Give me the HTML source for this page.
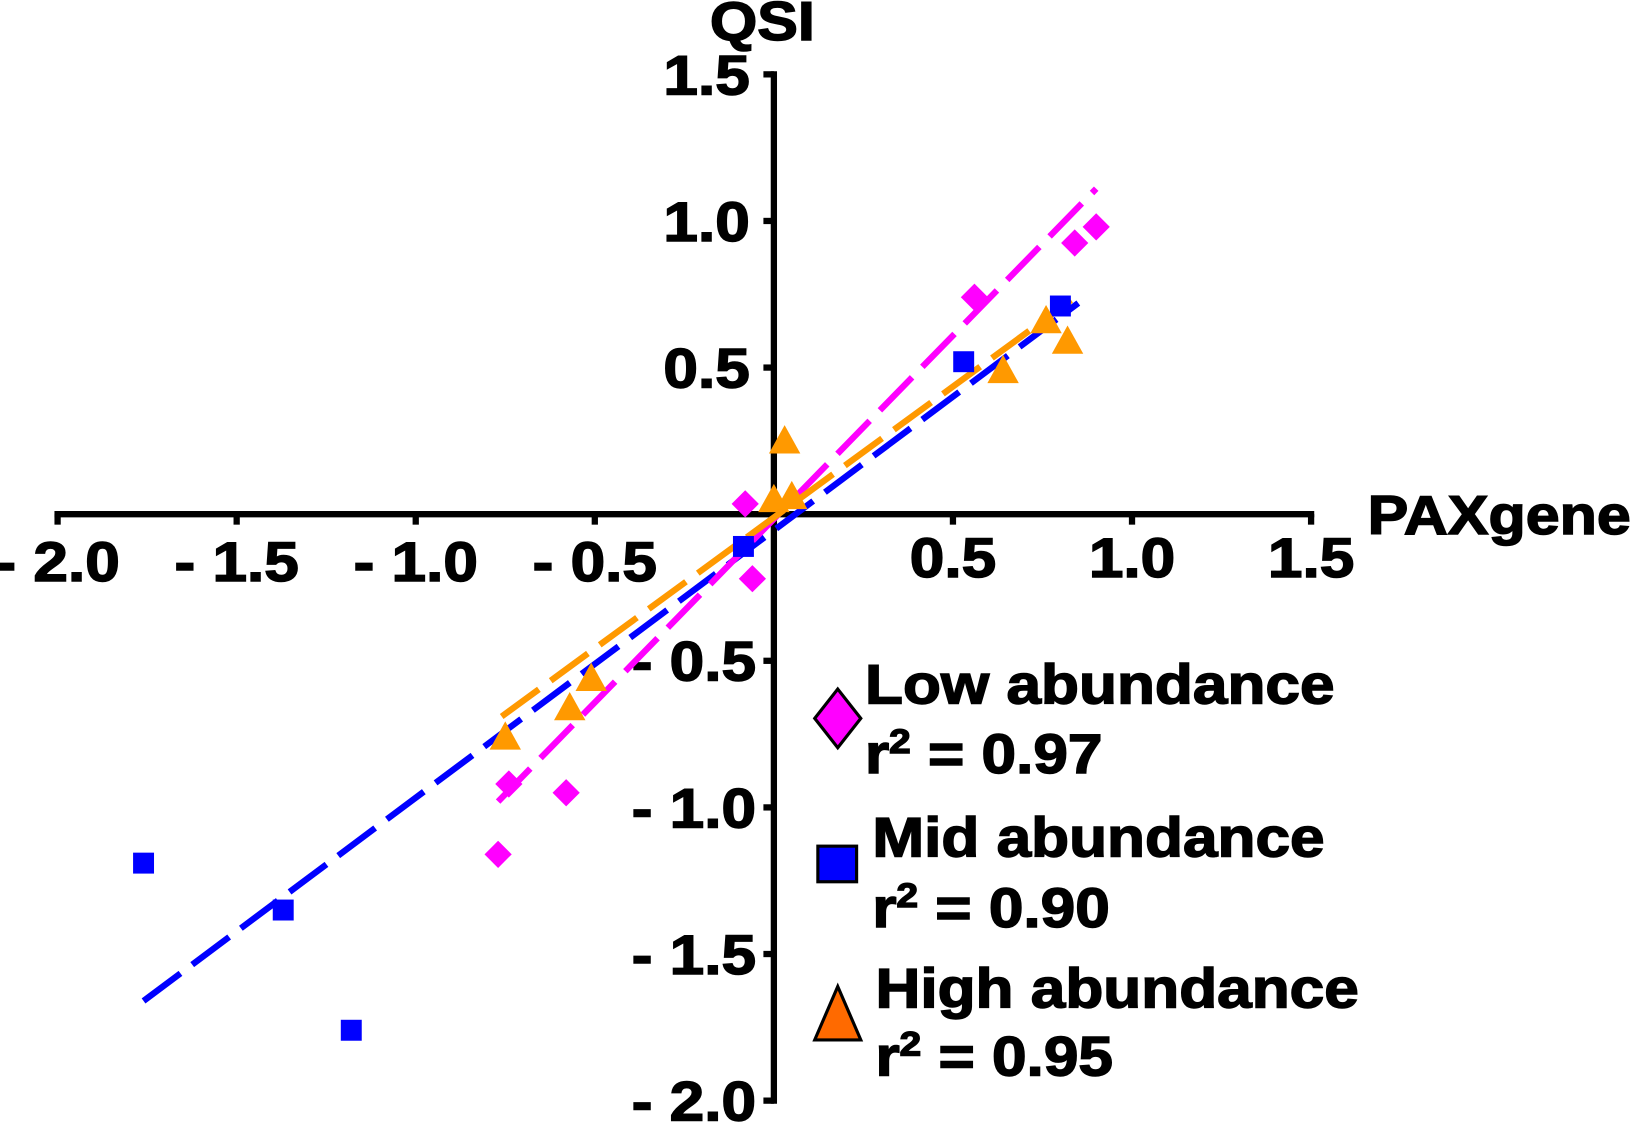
<!DOCTYPE html>
<html><head><meta charset="utf-8"><style>
html,body{margin:0;padding:0;background:#fff;}
svg{display:block;font-family:"Liberation Sans",Arial,sans-serif;font-weight:bold;}
svg text{stroke:#000;stroke-width:1.4;}
</style></head><body>
<svg id="chart" width="1642" height="1131" viewBox="0 0 1568 1080" preserveAspectRatio="none" xmlns="http://www.w3.org/2000/svg">
<g id="axes"></g>
<g id="fits"></g>
<g id="marks"></g>
<g id="legend">
  <polygon points="800,658 822,686 800,714 778,686" fill="#ff00ff" stroke="#000" stroke-width="3"/>
  <text transform="translate(826,672) scale(1.12,1)" font-size="53">Low abundance</text>
  <text transform="translate(826,738) scale(1.12,1)" font-size="53">r<tspan font-size="33" dy="-19">2</tspan><tspan dy="19"> = 0.97</tspan></text>
  <rect x="781" y="808" width="37" height="34" fill="#0000ff" stroke="#000" stroke-width="3"/>
  <text transform="translate(833,818) scale(1.12,1)" font-size="53">Mid abundance</text>
  <text transform="translate(833,885) scale(1.12,1)" font-size="53">r<tspan font-size="33" dy="-19">2</tspan><tspan dy="19"> = 0.90</tspan></text>
  <polygon points="800,942 822,993 778,993" fill="#ff6a00" stroke="#000" stroke-width="3"/>
  <text transform="translate(836,962) scale(1.12,1)" font-size="53">High abundance</text>
  <text transform="translate(836,1027) scale(1.12,1)" font-size="53">r<tspan font-size="33" dy="-19">2</tspan><tspan dy="19"> = 0.95</tspan></text>
</g>
</svg>
<script>
const xTicks = [-2.0, -1.5, -1.0, -0.5, 0.5, 1.0, 1.5];
const xTickLabels = ["- 2.0", "- 1.5", "- 1.0", "- 0.5", "0.5", "1.0", "1.5"];
const yTicks = [1.5, 1.0, 0.5, -0.5, -1.0, -1.5, -2.0];
const yTickLabels = ["1.5", "1.0", "0.5", "- 0.5", "- 1.0", "- 1.5", "- 2.0"];
const lowX = [0.90, 0.84, 0.56, -0.08, -0.06, -0.74, -0.58, -0.77];
const lowY = [0.98, 0.925, 0.74, 0.035, -0.22, -0.92, -0.95, -1.16];
const midX = [0.80, 0.53, -0.085, -1.76, -1.37, -1.18];
const midY = [0.71, 0.52, -0.11, -1.19, -1.35, -1.76];
const highX = [0.03, 0.0, 0.05, 0.76, 0.82, 0.64, -0.51, -0.57, -0.75];
const highY = [0.25, 0.05, 0.06, 0.66, 0.59, 0.49, -0.56, -0.66, -0.76];
const lowFitX = [-0.77, 0.90];
const lowFitY = [-0.98, 1.11];
const midFitX = [-1.76, 0.85];
const midFitY = [-1.66, 0.72];
const highFitX = [-0.76, 0.83];
const highFitY = [-0.69, 0.73];

const NS = "http://www.w3.org/2000/svg";
const SX = 1.12;
function sx(v){ return 739 + v * 342; }
function sy(v){ return 491 - v * 280; }
function mk(tag, attrs, parent){
  const e = document.createElementNS(NS, tag);
  for (const k in attrs) e.setAttribute(k, attrs[k]);
  parent.appendChild(e);
  return e;
}
function txt(x, y, anchor, size, s, parent){
  const t = mk('text', {transform: `translate(${x},${y}) scale(${SX},1)`, 'text-anchor': anchor, 'font-size': size}, parent);
  t.textContent = s;
  return t;
}
const axes = document.getElementById('axes');
let e;
e = mk('line', {x1: sx(-2.0) - 3, y1: sy(0), x2: sx(1.5) + 3, y2: sy(0), stroke: '#000', 'stroke-width': 6}, axes);


e = mk('line', {x1: sx(0), y1: sy(1.5) - 3, x2: sx(0), y2: sy(-2.0) + 3, stroke: '#000', 'stroke-width': 6}, axes);


xTicks.forEach((t, i) => {
  const tk = mk('line', {x1: sx(t), y1: sy(0), x2: sx(t), y2: sy(0) + 10, stroke: '#000', 'stroke-width': 6}, axes);
  
  
  const tx = txt(sx(t), t < 0 ? 555 : 551, 'middle', 53, xTickLabels[i], axes);
  
  
});
yTicks.forEach((t, i) => {
  const tk = mk('line', {x1: sx(0) - 10, y1: sy(t), x2: sx(0), y2: sy(t), stroke: '#000', 'stroke-width': 6}, axes);
  
  
  const tx = txt(t < 0 ? 722 : 716, sy(t) + 19, 'end', 53, yTickLabels[i], axes);
  
  
});
e = txt(728, 38, 'middle', 52, 'QSI', axes);


e = txt(1306, 510, 'start', 52, 'PAXgene', axes);



const fits = document.getElementById('fits');
[[midFitX, midFitY, '#0000ff', 'mid-fit-line'], [lowFitX, lowFitY, '#ff00ff', 'low-fit-line'], [highFitX, highFitY, '#ff9900', 'high-fit-line']].forEach(f => {
  const l = mk('line', {x1: sx(f[0][0]), y1: sy(f[1][0]), x2: sx(f[0][1]), y2: sy(f[1][1]), stroke: f[2], 'stroke-width': 6, 'stroke-dasharray': '44 14'}, fits);
  
  
});

const marks = document.getElementById('marks');
lowX.forEach((x, i) => {
  const cx = sx(x), cy = sy(lowY[i]);
  const p = mk('polygon', {points: `${cx},${cy-13} ${cx+13},${cy} ${cx},${cy+13} ${cx-13},${cy}`, fill: '#ff00ff'}, marks);
  
  
});
midX.forEach((x, i) => {
  const cx = sx(x), cy = sy(midY[i]);
  const r = mk('rect', {x: cx - 10, y: cy - 10, width: 20, height: 20, fill: '#0000ff'}, marks);
  
  
});
highX.forEach((x, i) => {
  const cx = sx(x), cy = sy(highY[i]);
  const p = mk('polygon', {points: `${cx},${cy-15} ${cx+15},${cy+12} ${cx-15},${cy+12}`, fill: '#ff9900'}, marks);
  
  
});
</script>
</body></html>
